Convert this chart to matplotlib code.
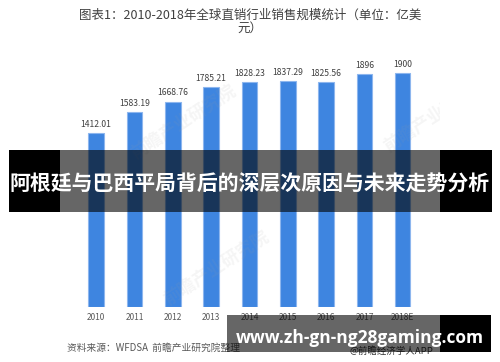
import matplotlib
matplotlib.use("Agg")
import matplotlib.pyplot as plt
from matplotlib.patches import Rectangle
from matplotlib.transforms import Bbox

plt.rcParams['font.family'] = ['Noto Sans CJK SC', 'DejaVu Sans']

years = ['2010', '2011', '2012', '2013', '2014', '2015', '2016', '2017', '2018E']
sales = [1412.01, 1583.19, 1668.76, 1785.21, 1828.23, 1837.29, 1825.56, 1896, 1900]
title_line1 = '图表1：2010-2018年全球直销行业销售规模统计（单位：亿美'
title_line2 = '元）'
source_text = '资料来源：WFDSA  前瞻产业研究院整理'
app_text = '@前瞻经济学人APP'
banner_text = '阿根廷与巴西平局背后的深层次原因与未来走势分析'
url_text = 'www.zh-gn-ng28gaming.com'
watermark = '前瞻产业研究院'

W, H = 500, 362
fig = plt.figure(figsize=(W / 100, H / 100), dpi=100)
fig.patch.set_facecolor('white')

def fx(x):
    return x / W

def fy(y):
    return 1 - y / H

# axes placement
ax = fig.add_axes([fx(77), fy(306.5), fx(422) - fx(77), fy(48.7) - fy(306.5)])
ax.set_xlim(-0.5, len(years) - 0.5)
ax.set_ylim(0, 2100)
bars = ax.bar(range(len(years)), sales, width=0.40, color='#3E85E0',
              edgecolor='#8DB6EE', linewidth=0.8)
ax.bar_label(bars, labels=[f"{v:g}" for v in sales], padding=3,
             fontsize=6.2, color='#404040')
ax.set_xticks(range(len(years)))
ax.set_xticklabels(years, fontsize=6, color='#595959')
ax.tick_params(axis='x', length=0, pad=5)
ax.set_yticks([])
for s in ax.spines.values():
    s.set_visible(False)
ax.patch.set_alpha(0)

# title
fig.text(fx(250), fy(15), title_line1, ha='center', va='center',
         fontsize=9, color='#404040')
fig.text(fx(250), fy(28), title_line2, ha='center', va='center',
         fontsize=9, color='#404040')

# source texts
fig.text(fx(67), fy(348), source_text, ha='left', va='center',
         fontsize=7, color='#595959', zorder=5)
fig.text(fx(350), fy(351.5), app_text, ha='left', va='center',
         fontsize=6.8, color='#333333', zorder=5)

# faint watermarks
clip = Bbox.from_extents(60, 0, 440, H)
for (cx, cy) in [(183, 122), (216, 268), (436, 115)]:
    t = fig.text(fx(cx), fy(cy), watermark, ha='center', va='center',
                 rotation=33, fontsize=12.5, color='#a0a0a0', alpha=0.1,
                 fontweight='bold', zorder=6, rotation_mode='anchor')
    t.set_clip_box(clip)
    t.set_clip_on(True)

# banners
def rect(x0, y0, x1, y1, color, alpha=1.0, z=10):
    fig.patches.append(Rectangle((fx(x0), fy(y1)), fx(x1) - fx(x0), fy(y0) - fy(y1),
                                 transform=fig.transFigure, facecolor=color,
                                 edgecolor='none', alpha=alpha, zorder=z))

rect(9, 150, 60, 212, 'black')
rect(60, 150, 440, 212, 'black', alpha=0.6)
rect(440, 150, 492, 212, 'black')
fig.text(fx(250), fy(184), banner_text, ha='center', va='center',
         fontsize=15, fontweight='bold', color='white', zorder=11)

rect(227, 315, 440, 352, 'black', alpha=0.6)
rect(440, 315, 491, 352, 'black')
fig.text(fx(359.5), fy(342.7), url_text, ha='center', va='baseline',
         fontsize=12.5, fontweight='bold', color='white', zorder=11,
         family=['Open Sans', 'DejaVu Sans'])

fig.savefig('out.png', dpi=100)
